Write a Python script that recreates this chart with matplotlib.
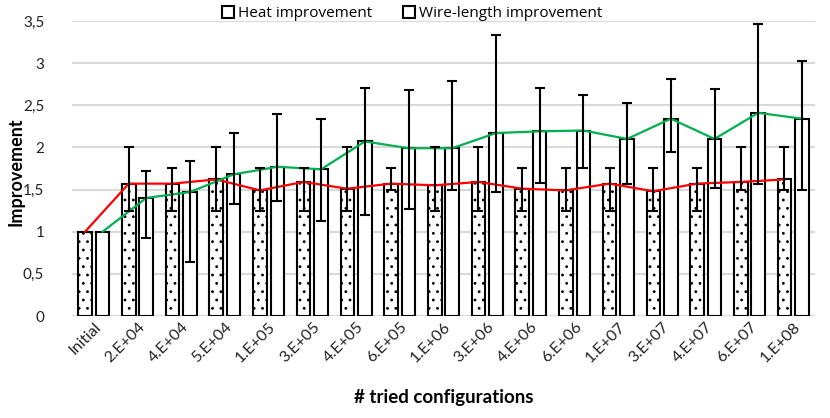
import matplotlib
matplotlib.use("Agg")
import matplotlib.pyplot as plt
import numpy as np
from matplotlib.patches import Patch

plt.rcParams['font.family'] = ['Lato', 'DejaVu Sans']
plt.rcParams['hatch.linewidth'] = 0.8
plt.rcParams['hatch.color'] = '#555555'

categories = ["Initial", "2.E+04", "4.E+04", "5.E+04", "1.E+05", "3.E+05", "4.E+05",
              "6.E+05", "1.E+06", "3.E+06", "4.E+06", "6.E+06", "1.E+07", "3.E+07",
              "4.E+07", "6.E+07", "1.E+08"]

heat = [1.0, 1.57, 1.57, 1.62, 1.49, 1.59, 1.51, 1.57, 1.55, 1.59, 1.51, 1.49,
        1.57, 1.48, 1.57, 1.59, 1.62]
heat_hi = [1.0, 2.0, 1.75, 2.0, 1.75, 1.75, 2.0, 1.75, 2.0, 2.0, 1.75, 1.75,
           1.75, 1.75, 1.75, 2.0, 2.0]
heat_lo = [1.0, 1.25, 1.25, 1.25, 1.25, 1.25, 1.25, 1.5, 1.25, 1.25, 1.25, 1.25,
           1.25, 1.25, 1.25, 1.5, 1.5]

wire = [1.0, 1.40, 1.47, 1.68, 1.77, 1.74, 2.07, 1.99, 1.99, 2.17, 2.19, 2.20,
        2.10, 2.34, 2.10, 2.41, 2.34]
wire_hi = [1.0, 1.72, 1.84, 2.17, 2.39, 2.34, 2.70, 2.68, 2.79, 3.33, 2.71, 2.62,
           2.53, 2.81, 2.69, 3.46, 3.02]
wire_lo = [1.0, 0.93, 0.64, 1.33, 1.36, 1.13, 1.20, 1.27, 1.49, 1.47, 1.58, 1.75,
           1.57, 1.95, 1.52, 1.56, 1.49]

yticks = [0, 0.5, 1, 1.5, 2, 2.5, 3, 3.5]
ytick_labels = ["0", "0,5", "1", "1,5", "2", "2,5", "3", "3,5"]

fig = plt.figure(figsize=(8.30, 4.18), dpi=100)
ax = fig.add_axes([0.0867, 0.244, 0.8953, 0.706])

x = np.arange(len(categories))
w = 0.31
off = 0.20
heat = np.array(heat); wire = np.array(wire)
hx = x - off
wx = x + off

ax.bar(hx, heat, width=w, color='white', edgecolor='black', linewidth=1.5,
       hatch='..', zorder=2)
ax.bar(wx, wire, width=w, color='white', edgecolor='black', linewidth=1.5,
       zorder=2)

ax.plot(hx, heat, color='#ff0000', lw=1.6, zorder=3)
ax.plot(wx, wire, color='#00b050', lw=1.6, zorder=3)

herr = [heat - np.array(heat_lo), np.array(heat_hi) - heat]
werr = [wire - np.array(wire_lo), np.array(wire_hi) - wire]
mask = np.arange(len(categories)) > 0
ax.errorbar(hx[mask], heat[mask], yerr=[herr[0][mask], herr[1][mask]], fmt='none',
            ecolor='black', elinewidth=1.5, capsize=3.6, capthick=1.5, zorder=4)
ax.errorbar(wx[mask], wire[mask], yerr=[werr[0][mask], werr[1][mask]], fmt='none',
            ecolor='black', elinewidth=1.5, capsize=3.6, capthick=1.5, zorder=4)

ax.set_xlim(-0.5, len(categories) - 0.5)
ax.set_ylim(0, 3.5)
ax.set_yticks(yticks)
ax.set_yticklabels(ytick_labels, fontsize=11, color='#222222')
ax.yaxis.grid(True, color='#d9d9d9', lw=1.5, zorder=0)
ax.set_axisbelow(True)
for s in ax.spines.values():
    s.set_visible(False)
ax.tick_params(axis='y', length=0, pad=20)
ax.tick_params(axis='x', length=0, pad=3)
ax.set_xticks(x)
ax.set_xticklabels(categories, rotation=45, ha='right', rotation_mode='anchor',
                   fontsize=11.5, color='#222222')

fig.text(16 / 830, 1 - 172 / 418, "Improvement", rotation=90, ha='center', va='center',
         fontsize=13, fontweight='bold')
ax.set_xlabel("# tried configurations", fontsize=13.5, fontweight='bold', labelpad=17)

handles = [Patch(facecolor='white', edgecolor='black', linewidth=1.5, label='Heat improvement'),
           Patch(facecolor='white', edgecolor='black', linewidth=1.5, label='Wire-length improvement')]
fig.legend(handles=handles, loc='center', bbox_to_anchor=(0.497, 0.967), ncol=2,
           frameon=False, prop={'family': 'Open Sans', 'size': 11},
           handlelength=0.75, handleheight=0.75,
           handletextpad=0.3, columnspacing=2.0, borderaxespad=0)

fig.savefig("out.png", dpi=100)
